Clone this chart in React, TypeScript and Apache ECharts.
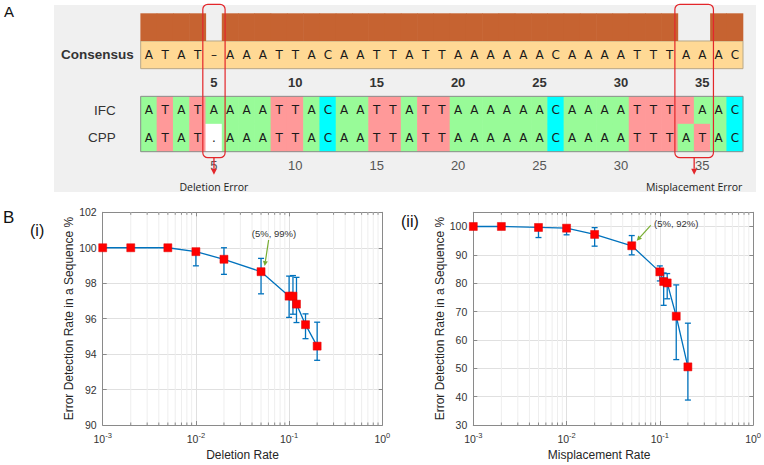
import React, { useEffect, useRef } from 'react';
import * as echarts from 'echarts';

// ---------- Panel A data ----------
const columnLabels = ['1','2','3','4','5','6','7','8','9','10','11','12','13','14','15','16','17','18','19','20','21','22','23','24','25','26','27','28','29','30','31','32','33','34','35','36','37'];
const rowNames = ['', 'Consensus', '', 'IFC', 'CPP'];
const consensusSeq = 'ATAT-AAATTACAATTATTAAAAAACAAAATTTAAAC';
const ifcSeq = 'ATATAAAATTACAATTATTAAAAAACAAAATTTTAAC';
const cppSeq = 'ATAT.AAATTACAATTATTAAAAAACAAAATTTATAC';
const conservation = [1,1,1,1,0,1,1,1,1,1,1,1,1,1,1,1,1,1,1,1,1,1,1,1,1,1,1,1,1,1,1,1,1,0,0,1,1];
const tickLabels = ['5','10','15','20','25','30','35'];
const errorSpans = [[4, 4], [33, 34]];
const errorLabels = ['Deletion Error', 'Misplacement Error'];

// ---------- Panel B data ----------
const rates = [0.001, 0.002, 0.005, 0.01, 0.02, 0.05, 0.1, 0.11, 0.12, 0.15, 0.2];
const deletionDetect = [100, 100, 100, 99.78, 99.35, 98.65, 97.27, 97.27, 96.82, 95.66, 94.45];
const deletionLow = [100, 100, 100, 98.98, 98.5, 97.4, 96.07, 96.25, 95.78, 94.87, 93.65];
const deletionHigh = [100, 100, 100, 99.95, 100, 99.4, 98.4, 98.43, 98.33, 96.27, 95.8];
const misplaceDetect = [100, 100, 99.65, 99.4, 97.2, 93.2, 84.0, 80.6, 80.1, 68.35, 50.5];
const misplaceLow = [100, 100, 96.1, 97.06, 93.06, 90.0, 80.8, 72.2, 74.5, 53.06, 38.8];
const misplaceHigh = [100, 100, 100, 99.85, 99.6, 96.8, 86.1, 83.6, 83.4, 79.4, 65.9];
const minorTicks = [0.002,0.003,0.004,0.005,0.006,0.007,0.008,0.009,0.02,0.03,0.04,0.05,0.06,0.07,0.08,0.09,0.2,0.3,0.4,0.5,0.6,0.7,0.8,0.9];
const deletionNote = { x: 0.05, y: 98.65, text: '(5%, 99%)' };
const misplaceNote = { x: 0.05, y: 93.2, text: '(5%, 92%)' };

// ---------- styles ----------
const FONT = 'Liberation Sans, Arial, sans-serif';
const BROWN = '#C66331';
const CONS_BG = '#FFD995';
const PANEL_BG = '#F0F0F0';
const AXIS = '#8a8a8a';
const GRID = '#e0e0e0';
const MINOR = '#eeeeee';
const BLUE = '#0072BD';
const RED = '#E3262B';
const GREEN = '#77AC30';

const cellColor = (ch: string) =>
  ({ A: '#98FB98', T: '#FF9999', C: '#00FFFF', G: '#FFFF66', '.': '#FFFFFF' } as any)[ch] || 'transparent';

function arrow(x1: number, y1: number, x2: number, y2: number, color: string, head = 5, lw = 1.2) {
  const dx = x2 - x1, dy = y2 - y1;
  const len = Math.sqrt(dx * dx + dy * dy);
  const ux = dx / len, uy = dy / len;
  const bx = x2 - ux * head, by = y2 - uy * head;
  const px = -uy * head * 0.5, py = ux * head * 0.5;
  return [
    { type: 'line', shape: { x1, y1, x2: bx, y2: by }, style: { stroke: color, lineWidth: lw } },
    { type: 'polygon', shape: { points: [[x2, y2], [bx + px, by + py], [bx - px, by - py]] }, style: { fill: color } },
  ];
}

const supFormatter = (v: number) => {
  const e = Math.round(Math.log10(v));
  return `{b|10}{s|${e}}`;
};
const supRich = {
  b: { fontSize: 10.5, color: '#333', fontFamily: FONT },
  s: { fontSize: 7.5, color: '#333', fontFamily: FONT, padding: [0, 0, 7, 0] },
};

function xAxes(gridIndex: number, name: string, namePad: number[]) {
  return [
    {
      type: 'log', logBase: 10, gridIndex, min: 0.001, max: 1, position: 'bottom',
      name, nameLocation: 'middle', nameGap: 24,
      nameTextStyle: { fontSize: 12, color: '#262626', fontFamily: FONT, padding: namePad },
      axisLine: { show: true, onZero: false, lineStyle: { color: AXIS, width: 1 } },
      axisTick: { show: true, inside: true, length: 4, lineStyle: { color: AXIS } },
      axisLabel: { formatter: supFormatter, rich: supRich, margin: 6 },
      splitLine: { show: true, lineStyle: { color: GRID, width: 1 } },
      minorTick: { show: false }, minorSplitLine: { show: false },
    },
    {
      type: 'log', logBase: 10, gridIndex, min: 0.001, max: 1, position: 'top',
      axisLine: { show: true, onZero: false, lineStyle: { color: AXIS, width: 1 } },
      axisTick: { show: true, inside: true, length: 4, lineStyle: { color: AXIS } },
      axisLabel: { show: false }, splitLine: { show: false },
    },
  ];
}

function yAxes(gridIndex: number, min: number, max: number, interval: number, nameGap: number) {
  return [
    {
      type: 'value', gridIndex, min, max, interval, position: 'left',
      name: 'Error Detection Rate in a Sequence %', nameLocation: 'middle', nameGap, nameRotate: 90,
      nameTextStyle: { fontSize: 12, color: '#262626', fontFamily: FONT },
      axisLine: { show: true, onZero: false, lineStyle: { color: AXIS, width: 1 } },
      axisTick: { show: true, inside: true, length: 4, lineStyle: { color: AXIS } },
      axisLabel: {
        fontSize: 10.5, color: '#333', fontFamily: FONT, margin: 6,
        formatter: (v: number) => (v > 100 && v !== 102 ? '' : String(v)),
      },
      splitLine: { show: true, lineStyle: { color: GRID, width: 1 } },
    },
    {
      type: 'value', gridIndex, min, max, interval, position: 'right',
      axisLine: { show: true, onZero: false, lineStyle: { color: AXIS, width: 1 } },
      axisTick: { show: true, inside: true, length: 4, lineStyle: { color: AXIS } },
      axisLabel: { show: false }, splitLine: { show: false },
    },
  ];
}

function chartSeries(
  axisIndex: number, yMin: number, yMax: number,
  detect: number[], low: number[], high: number[],
  note: { x: number; y: number; text: string },
  noteOffsets: { tip: number[]; tail: number[]; text: number[]; align: string },
) {
  return [
    {
      type: 'custom', xAxisIndex: axisIndex, yAxisIndex: axisIndex, z: 1, silent: true,
      data: minorTicks.map((v) => [v, yMin, yMax]),
      encode: { x: 0, y: [1, 2] },
      renderItem: (params: any, api: any) => {
        const v = api.value(0);
        const t = api.coord([v, api.value(2)]);
        const b = api.coord([v, api.value(1)]);
        return {
          type: 'group',
          children: [
            { type: 'line', shape: { x1: t[0], y1: t[1], x2: b[0], y2: b[1] }, style: { stroke: MINOR, lineWidth: 1 } },
            { type: 'line', shape: { x1: b[0], y1: b[1], x2: b[0], y2: b[1] - 2.5 }, style: { stroke: AXIS, lineWidth: 1 } },
            { type: 'line', shape: { x1: t[0], y1: t[1], x2: t[0], y2: t[1] + 2.5 }, style: { stroke: AXIS, lineWidth: 1 } },
          ],
        };
      },
    },
    {
      type: 'custom', xAxisIndex: axisIndex, yAxisIndex: axisIndex, z: 3, silent: true,
      data: rates.map((r, i) => [r, low[i], high[i]]),
      encode: { x: 0, y: [1, 2] },
      renderItem: (params: any, api: any) => {
        const x = api.value(0);
        const lo = api.coord([x, api.value(1)]);
        const hi = api.coord([x, api.value(2)]);
        const w = 3;
        return {
          type: 'group',
          children: [
            { type: 'line', shape: { x1: lo[0], y1: lo[1], x2: hi[0], y2: hi[1] }, style: { stroke: BLUE, lineWidth: 1.3 } },
            { type: 'line', shape: { x1: lo[0] - w, y1: lo[1], x2: lo[0] + w, y2: lo[1] }, style: { stroke: BLUE, lineWidth: 1.3 } },
            { type: 'line', shape: { x1: hi[0] - w, y1: hi[1], x2: hi[0] + w, y2: hi[1] }, style: { stroke: BLUE, lineWidth: 1.3 } },
          ],
        };
      },
    },
    {
      type: 'line', xAxisIndex: axisIndex, yAxisIndex: axisIndex, z: 4,
      data: rates.map((r, i) => [r, detect[i]]),
      symbol: 'rect', symbolSize: 8,
      itemStyle: { color: '#FF0000', borderColor: '#E00000', borderWidth: 0.5 },
      lineStyle: { color: BLUE, width: 1.3 },
    },
    {
      type: 'custom', xAxisIndex: axisIndex, yAxisIndex: axisIndex, z: 5, silent: true, clip: false,
      data: [[note.x, note.y]],
      encode: { x: 0, y: 1 },
      renderItem: (params: any, api: any) => {
        const p = api.coord([api.value(0), api.value(1)]);
        const o = noteOffsets;
        return {
          type: 'group',
          children: [
            ...arrow(p[0] + o.tail[0], p[1] + o.tail[1], p[0] + o.tip[0], p[1] + o.tip[1], GREEN, 5, 1.2),
            {
              type: 'text',
              style: {
                text: note.text, x: p[0] + o.text[0], y: p[1] + o.text[1],
                align: o.align, verticalAlign: 'middle', fontSize: 9.5, fill: '#333', fontFamily: FONT,
              },
            },
          ],
        };
      },
    },
  ];
}

function buildOption() {
  const letterStyle = (text: string, x: number, y: number) => ({
    type: 'text',
    style: { text, x, y, align: 'center', verticalAlign: 'middle', fontSize: 12, fill: '#1a1a1a', fontFamily: 'DejaVu Sans, Verdana, sans-serif' },
  });

  return {
    animation: false,
    backgroundColor: '#ffffff',
    graphic: [
      { type: 'rect', z: -10, shape: { x: 54, y: 5, width: 702, height: 187 }, style: { fill: PANEL_BG } },
      { type: 'text', style: { text: 'A', x: 4, y: 11, verticalAlign: 'middle', fontSize: 15, fill: '#111', fontFamily: FONT } },
      { type: 'text', style: { text: 'B', x: 3, y: 217.5, verticalAlign: 'middle', fontSize: 17, fill: '#111', fontFamily: FONT } },
      { type: 'text', style: { text: '(i)', x: 30, y: 230, verticalAlign: 'middle', fontSize: 16, fill: '#111', fontFamily: FONT } },
      { type: 'text', style: { text: '(ii)', x: 401, y: 221.5, verticalAlign: 'middle', fontSize: 16, fill: '#111', fontFamily: FONT } },
    ],
    grid: [
      { left: 140.7, top: 13.3, width: 602.3, height: 138.4 },
      { left: 102.7, top: 212.3, width: 279.6, height: 212.7 },
      { left: 473.3, top: 212.3, width: 281, height: 212.7 },
    ],
    xAxis: [
      {
        type: 'category', gridIndex: 0, data: columnLabels, position: 'bottom',
        axisLine: { show: false }, axisTick: { show: false }, splitLine: { show: false },
        axisLabel: {
          interval: (idx: number, val: string) => tickLabels.includes(val),
          fontSize: 13, color: '#555', fontFamily: FONT, margin: 7.5,
        },
      },
      ...xAxes(1, 'Deletion Rate', [0, 0, 0, 0]),
      ...xAxes(2, 'Misplacement Rate', [0, 28, 0, 0]),
    ],
    yAxis: [
      {
        type: 'category', gridIndex: 0, data: rowNames, inverse: true,
        axisLine: { show: false }, axisTick: { show: false }, splitLine: { show: false },
        axisLabel: {
          margin: 7,
          formatter: (v: string) => (v === 'Consensus' ? '{c|Consensus}' : v ? `{n|${v}}` : ''),
          rich: {
            c: { fontWeight: 'bold', fontSize: 13.5, color: '#333', fontFamily: FONT },
            n: { fontSize: 13.5, color: '#333', fontFamily: FONT, padding: [0, 18, 0, 0] },
          },
        },
      },
      ...yAxes(1, 90, 102, 2, 28),
      ...yAxes(2, 30, 105, 10, 25),
    ],
    series: [
      {
        type: 'custom', xAxisIndex: 0, yAxisIndex: 0, z: 1, silent: true, clip: false,
        data: [[0, columnLabels.length - 1, 1]],
        encode: { x: [0, 1], y: 2 },
        renderItem: (params: any, api: any) => {
          const [bw, bh] = api.size([1, 1]);
          const a = api.coord([api.value(0), 1]);
          const b = api.coord([api.value(1), 1]);
          return {
            type: 'rect',
            shape: { x: a[0] - bw / 2, y: a[1] - bh / 2, width: b[0] - a[0] + bw, height: bh },
            style: { fill: CONS_BG, stroke: '#B8A888', lineWidth: 1 },
          };
        },
      },
      {
        type: 'custom', xAxisIndex: 0, yAxisIndex: 0, z: 2, silent: true, clip: false,
        data: columnLabels.map((_, i) => [i, 0]),
        encode: { x: 0, y: 1 },
        renderItem: (params: any, api: any) => {
          const i = api.value(0) as number;
          const [bw, bh] = api.size([1, 1]);
          const children: any[] = [];
          const c0 = api.coord([i, 0]);
          const cons = conservation[i];
          if (cons > 0) {
            children.push({
              type: 'rect',
              shape: { x: c0[0] - bw / 2 - 0.3, y: c0[1] + bh / 2 - bh * cons, width: bw + 0.6, height: bh * cons },
              style: { fill: BROWN },
            });
          }
          const c1 = api.coord([i, 1]);
          const cc = consensusSeq[i] === '-' ? '–' : consensusSeq[i];
          children.push(letterStyle(cc, c1[0], c1[1]));
          const lab = columnLabels[i];
          if (tickLabels.includes(lab)) {
            const c2 = api.coord([i, 2]);
            children.push({
              type: 'text',
              style: { text: lab, x: c2[0], y: c2[1], align: 'center', verticalAlign: 'middle', fontSize: 13, fontWeight: 'bold', fill: '#333', fontFamily: FONT },
            });
          }
          [3, 4].forEach((r) => {
            const ch = (r === 3 ? ifcSeq : cppSeq)[i];
            const c = api.coord([i, r]);
            children.push({
              type: 'rect',
              shape: { x: c[0] - bw / 2 - 0.3, y: c[1] - bh / 2 - 0.2, width: bw + 0.6, height: bh + 0.4 },
              style: { fill: cellColor(ch) },
            });
            children.push(letterStyle(ch, c[0], c[1]));
          });
          return { type: 'group', children };
        },
      },
      {
        type: 'custom', xAxisIndex: 0, yAxisIndex: 0, z: 3, silent: true, clip: false,
        data: [[0, columnLabels.length - 1, 3]],
        encode: { x: [0, 1], y: 2 },
        renderItem: (params: any, api: any) => {
          const [bw, bh] = api.size([1, 1]);
          const a = api.coord([api.value(0), 3]);
          const b = api.coord([api.value(1), 4]);
          return {
            type: 'rect',
            shape: { x: a[0] - bw / 2, y: a[1] - bh / 2, width: b[0] - a[0] + bw, height: b[1] - a[1] + bh },
            style: { fill: 'none', stroke: '#8c8c8c', lineWidth: 1 },
          };
        },
      },
      {
        type: 'custom', xAxisIndex: 0, yAxisIndex: 0, z: 6, silent: true, clip: false,
        data: errorSpans.map(([s, e], k) => [s, e, k]),
        encode: { x: [0, 1], y: 2 },
        renderItem: (params: any, api: any) => {
          const [bw, bh] = api.size([1, 1]);
          const s = api.coord([api.value(0), 0]);
          const e = api.coord([api.value(1), 4]);
          const x1 = s[0] - bw / 2 - 3;
          const x2 = e[0] + bw / 2 + 3;
          const y1 = s[1] - bh / 2 - 9;
          const y2 = e[1] + bh / 2 + 6;
          const cx = (x1 + x2) / 2;
          const label = errorLabels[params.dataIndex];
          return {
            type: 'group',
            children: [
              { type: 'rect', shape: { x: x1, y: y1, width: x2 - x1, height: y2 - y1, r: 5 }, style: { fill: 'none', stroke: RED, lineWidth: 1.2 } },
              ...arrow(cx, y2, cx, y2 + 17, RED, 6, 1.3),
              {
                type: 'text',
                style: { text: label, x: cx, y: y2 + 29, align: 'center', verticalAlign: 'middle', fontSize: 10.5, fill: '#222', fontFamily: 'Open Sans, Liberation Sans, sans-serif' },
              },
            ],
          };
        },
      },
      ...chartSeries(1, 90, 102, deletionDetect, deletionLow, deletionHigh, deletionNote,
        { tip: [3.6, -5.7], tail: [7.6, -31.7], text: [13, -37.7], align: 'center' }),
      ...chartSeries(3, 30, 105, misplaceDetect, misplaceLow, misplaceHigh, misplaceNote,
        { tip: [5, -5], tail: [19, -20.3], text: [22.3, -22], align: 'left' }),
    ],
  };
}

export default function App() {
  const ref = useRef<HTMLDivElement>(null);
  useEffect(() => {
    if (!ref.current) return;
    const chart = echarts.init(ref.current, null, { renderer: 'svg' });
    chart.setOption(buildOption() as any);
    return () => chart.dispose();
  }, []);
  return (
    <div
      ref={ref}
      style={{ position: 'fixed', left: 0, top: 0, width: 764, height: 465, background: '#fff' }}
    />
  );
}
